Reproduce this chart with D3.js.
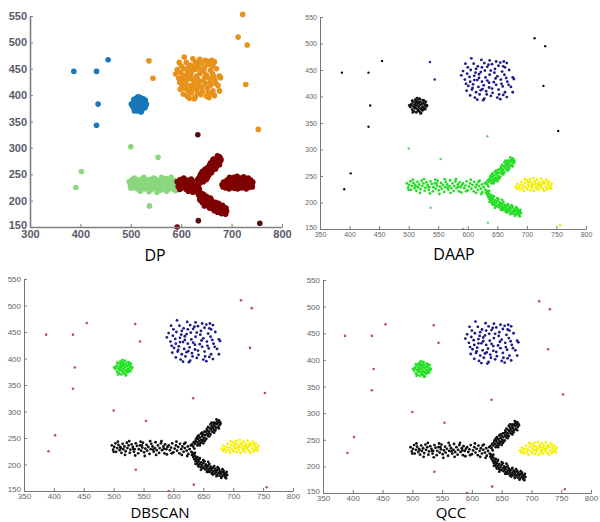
<!DOCTYPE html>
<html>
<head>
<meta charset="utf-8">
<script src="https://cdnjs.cloudflare.com/ajax/libs/d3/7.8.5/d3.min.js"></script>
<style>
body { margin: 0; background: #fff; }
svg { display: block; }
</style>
</head>
<body>
<div class="charts"></div>
<script>
// the same point set is clustered by four methods
// isolated points (noise)
var noisePts = [[387,445],[432,445],[455,467],[435,383],[432,343],[402,255],[391,225],
	[536,465],[544,432],[500,302],[554,282],[537,190],[592,150],[633,325],[634,162],
	[713,510],[731,495],[728,420],[753,335],[756,157]];
var dpExtraPts = [[722,553]]; // only visible in the DP plot

// small round blob
var blobPts = [[503,380],[505,386],[506,375],[508,390],[508,381],[509,372],[510,385],[511,394],
	[512,378],[512,388],[513,370],[514,383],[515,392],[515,376],[516,387],[517,380],[518,396],
	[518,372],[519,384],[520,390],[520,377],[521,369],[522,386],[523,381],[524,393],[524,374],
	[525,388],[526,379],[527,384],[528,376],[529,390],[530,381],[506,392],[504,384],[507,370],
	[510,378],[513,391],[516,373],[519,395],[522,375],[526,392],[528,385],[511,382],[517,389],
	[523,378],[501,383],[531,383],[514,397],[520,368]];

// square cloud
var boxPts = [[606,472],[623,469],[637,468],[648,466],[661,466],[666,463],
	[596,462],[610,462],[628,463],[641,461],[655,464],[600,455],[617,457],[633,456],[652,458],[663,455],
	[592,448],[605,450],[614,452],[622,446],[639,449],[646,452],[658,447],[670,450],
	[589,440],[599,443],[611,439],[619,442],[630,436],[637,441],[650,438],[662,441],[676,436],
	[595,432],[604,428],[616,431],[624,428],[633,430],[644,427],[656,432],[667,428],[678,433],
	[601,420],[609,423],[618,418],[627,421],[636,417],[648,422],[659,419],[669,422],
	[598,411],[607,413],[614,408],[622,412],[631,410],[642,407],[652,413],[663,408],[676,408],
	[604,402],[612,398],[620,404],[628,396],[639,401],[650,398],[660,403],[666,399],
	[626,393],[655,395],[616,394],
	[603,437],[613,445],[624,455],[645,445],[657,424],[635,460],[608,416],[641,415],[665,435],
	[619,435],[629,449],[653,404],[597,424],[673,418],[611,431],[632,404],[647,434],[660,457],
	[625,414],[636,426]];

// horizontal strip
var stripPts = [[497,236],[499,228],[501,233],[503,240],[504,224],[506,231],[508,237],[510,227],
	[511,233],[513,222],[515,239],[516,229],[518,234],[520,225],[522,241],[523,231],[525,236],
	[527,222],[528,228],[530,238],[532,233],[534,224],[535,229],[537,240],[539,235],[541,221],
	[542,229],[544,236],[546,226],[548,232],[549,241],[551,223],[553,230],[555,237],[556,226],
	[558,233],[560,220],[562,229],[563,239],[565,234],[567,224],[569,231],[570,242],[572,227],
	[574,236],[576,222],[577,231],[579,240],[581,227],[583,234],[585,221],[586,238],[588,229],
	[590,233],[500,224],[507,243],[519,218],[526,244],[536,217],[545,243],[552,216],[561,244],
	[571,218],[580,244],[589,219],[533,229],[547,236],[566,228],[584,230],[512,231]];

// the fork (stem + upper arm + lower arm)
var forkPts = [[592,236],[594,227],[596,232],[598,240],[600,223],[602,230],[604,236],[606,226],
	[608,233],[610,221],[611,239],[613,229],[615,234],[617,224],[619,231],[620,241],[622,226],
	[624,234],[625,220],[627,229],[629,236],[630,224],[597,221],[605,243],[614,218],[618,239],[623,216],
	// upper arm
	[631,238],[633,234],[634,242],[636,239],[637,245],[639,242],[640,236],[641,248],[643,244],
	[644,251],[645,240],[646,247],[648,253],[649,246],[650,257],[651,250],[653,255],[654,262],
	[655,249],[656,258],[657,264],[658,254],[660,262],[661,268],[662,257],[663,266],[664,272],
	[665,262],[666,269],[667,275],[668,265],[669,272],[670,278],[671,268],[672,276],[673,281],
	[674,271],[675,278],[676,283],[677,274],[678,280],[679,277],[638,249],[647,243],[652,262],
	[659,258],[668,279],[642,239],
	[635,230],[640,252],[644,236],[648,260],[652,244],[656,267],[660,253],[664,279],[668,260],
	[672,285],[676,268],[658,271],[650,240],[642,255],[662,276],[654,247],[670,264],[646,258],
	// lower arm
	[631,218],[633,214],[632,222],[635,210],[636,216],[637,206],[638,212],[640,203],[639,208],
	[641,199],[642,206],[643,210],[644,201],[645,196],[646,204],[634,219],[637,201],
	[648,199],[649,193],[650,203],[652,196],[653,191],[654,200],[656,194],[657,189],[658,198],
	[660,192],[661,187],[662,196],[664,190],[665,185],[666,194],[668,188],[669,183],[670,192],
	[672,186],[673,181],[674,190],[676,184],[677,179],[678,188],[680,182],[681,177],[682,186],
	[684,180],[685,184],[686,178],[688,182],[689,186],[690,180],[655,197],[663,193],[671,189],
	[679,185],[687,176],[647,194],[659,186],
	[652,206],[656,186],[660,201],[664,183],[668,197],[672,178],[676,192],[680,175],[684,188],
	[688,174],[658,205],[666,181],[674,195],[682,191],[650,208],[644,212],[640,214],[646,190],
	[636,222],[642,196]];

// elongated cloud on the right
var rightPts = [[681,230],[683,226],[684,235],[686,229],[688,224],[689,233],[691,239],[692,227],
	[694,232],[695,222],[697,237],[698,229],[700,242],[701,225],[702,234],[704,230],[705,244],
	[706,223],[707,238],[709,228],[710,234],[711,246],[712,222],[713,240],[715,231],[716,226],
	[717,243],[719,235],[720,224],[721,239],[723,229],[724,245],[725,233],[727,226],[728,240],
	[729,222],[730,236],[732,230],[733,243],[734,225],[736,234],[737,228],[738,239],[740,231],
	[741,226],[742,235],[703,238],[714,236],[726,237],[696,244],[718,230],[735,239],[708,232],[722,233]];

// cluster colour of every noise point, per method
var dpNoiseColors = ["#1877b8","#1877b8","#1877b8","#1877b8","#1877b8","#8ad77e","#8ad77e",
	"#e8921c","#e8921c","#8ad77e","#8ad77e","#8ad77e","#7a0000","#5a0a0a","#5a0a0a",
	"#e8921c","#e8921c","#e8921c","#e8921c","#5a0a0a"];
var daapNoiseColors = ["#111","#111","#111","#111","#111","#111","#111",
	"#1a1a8c","#1a1a8c","#66cc66","#66cc66","#66cc66","#66cc66","#66cc66","#66cc66",
	"#111","#111","#111","#111","#e8e400"];

var titles = ["DP", "DAAP", "DBSCAN", "QCC"];
var yTicks = [150, 200, 250, 300, 350, 400, 450, 500, 550];
var xTicksDP = [300, 400, 500, 600, 700, 800];
var xTicks = [350, 400, 450, 500, 550, 600, 650, 700, 750, 800];

var svg = d3.select(".charts").append("svg")
	.attr("width", 600)
	.attr("height", 522);

function drawPanel(p) {
	var xScale = d3.scaleLinear().domain(p.xDomain).range(p.xRange);
	var yScale = d3.scaleLinear().domain([150, 550]).range(p.yRange);
	var g = svg.append("g");

	// points first, axes on top
	p.groups.forEach(function (grp) {
		g.append("g").selectAll("circle")
			.data(grp.pts)
			.enter().append("circle")
			.attr("cx", function (d) { return xScale(d[0]); })
			.attr("cy", function (d) { return yScale(d[1]); })
			.attr("r", grp.r || p.r)
			.attr("fill", function (d, i) { return typeof grp.color === "function" ? grp.color(d, i) : grp.color; });
	});

	var xAxis = d3.axisBottom(xScale).tickValues(p.xTicks).tickSizeInner(-3).tickSizeOuter(0).tickPadding(p.xPad);
	var yAxis = d3.axisLeft(yScale).tickValues(yTicks).tickSizeInner(-3).tickSizeOuter(0).tickPadding(p.yPad);

	var gx = g.append("g")
		.attr("transform", "translate(0," + p.yRange[0] + ")")
		.call(xAxis);
	var gy = g.append("g")
		.attr("transform", "translate(" + p.xRange[0] + ",0)")
		.call(yAxis);

	[gx, gy].forEach(function (a) {
		a.select(".domain").attr("stroke", p.axisColor).attr("stroke-width", p.axisWidth);
		a.selectAll(".tick line").attr("stroke", p.axisColor);
		a.selectAll(".tick text")
			.attr("fill", p.textColor)
			.style("font-family", "Liberation Sans, Arial, sans-serif")
			.style("font-size", p.fontSize + "px")
			.style("font-weight", p.fontWeight);
	});
	// lowest y label sits a little above its tick, like the original
	gy.selectAll(".tick text").filter(function (d) { return d === 150; })
		.attr("dy", (p.lowDy || 0.32) + "em");

	g.append("text")
		.attr("x", p.titleX)
		.attr("y", p.titleY)
		.attr("text-anchor", "middle")
		.style("font-family", "Open Sans, sans-serif")
		.style("font-size", p.titleSize + "px")
		.attr("fill", "#000")
		.text(p.title);
}

// DP
drawPanel({
	title: titles[0], titleX: 155, titleY: 261, titleSize: 16,
	xDomain: [300, 800], xRange: [30, 282], yRange: [227, 16], xTicks: xTicksDP,
	axisColor: "#808080", axisWidth: 1.6, textColor: "#5a5a6a", fontSize: 11, fontWeight: "bold",
	xPad: 3, yPad: 3, lowDy: 0.1,
	r: 2.8,
	groups: [
		{ pts: noisePts, color: function (d, i) { return dpNoiseColors[i]; } },
		{ pts: dpExtraPts, color: "#e8921c" },
		{ pts: stripPts, color: "#8ad77e" },
		{ pts: boxPts, color: "#e8921c" },
		{ pts: forkPts, color: "#7f0000" },
		{ pts: rightPts, color: "#7f0000" },
		{ pts: blobPts, color: "#1877b8" }
	]
});

// DAAP
drawPanel({
	title: titles[1], titleX: 454, titleY: 260, titleSize: 16,
	xDomain: [350, 800], xRange: [320, 586], yRange: [229, 17], xTicks: xTicks,
	axisColor: "#777", axisWidth: 1, textColor: "#666", fontSize: 7, fontWeight: "normal",
	xPad: 3, yPad: 3, lowDy: 0.1,
	r: 1.4,
	groups: [
		{ pts: noisePts, color: function (d, i) { return daapNoiseColors[i]; }, r: 1.2 },
		{ pts: blobPts, color: "#111" },
		{ pts: boxPts, color: "#1a1a8c" },
		{ pts: stripPts, color: "#22dd22" },
		{ pts: forkPts, color: "#22dd22" },
		{ pts: rightPts, color: "#f2ee00" }
	]
});

// DBSCAN
drawPanel({
	title: titles[2], titleX: 160, titleY: 518, titleSize: 15,
	xDomain: [350, 800], xRange: [24, 293], yRange: [491, 279], xTicks: xTicks,
	axisColor: "#777", axisWidth: 1, textColor: "#666", fontSize: 8, fontWeight: "normal",
	xPad: 2, yPad: 3, lowDy: 0.1,
	r: 1.4,
	groups: [
		{ pts: noisePts, color: "#c0504d", r: 1.3 },
		{ pts: blobPts, color: "#22e022" },
		{ pts: boxPts, color: "#1c1c8a" },
		{ pts: stripPts, color: "#111" },
		{ pts: forkPts, color: "#111" },
		{ pts: rightPts, color: "#f5f000" }
	]
});

// QCC
drawPanel({
	title: titles[3], titleX: 451, titleY: 518, titleSize: 15,
	xDomain: [350, 800], xRange: [323, 591], yRange: [493, 280], xTicks: xTicks,
	axisColor: "#777", axisWidth: 1, textColor: "#666", fontSize: 8, fontWeight: "normal",
	xPad: 2, yPad: 3, lowDy: 0.1,
	r: 1.4,
	groups: [
		{ pts: noisePts, color: "#c0504d", r: 1.3 },
		{ pts: blobPts, color: "#22e022" },
		{ pts: boxPts, color: "#1c1c8a" },
		{ pts: stripPts, color: "#111" },
		{ pts: forkPts, color: "#111" },
		{ pts: rightPts, color: "#f5f000" }
	]
});
</script>
</body>
</html>
